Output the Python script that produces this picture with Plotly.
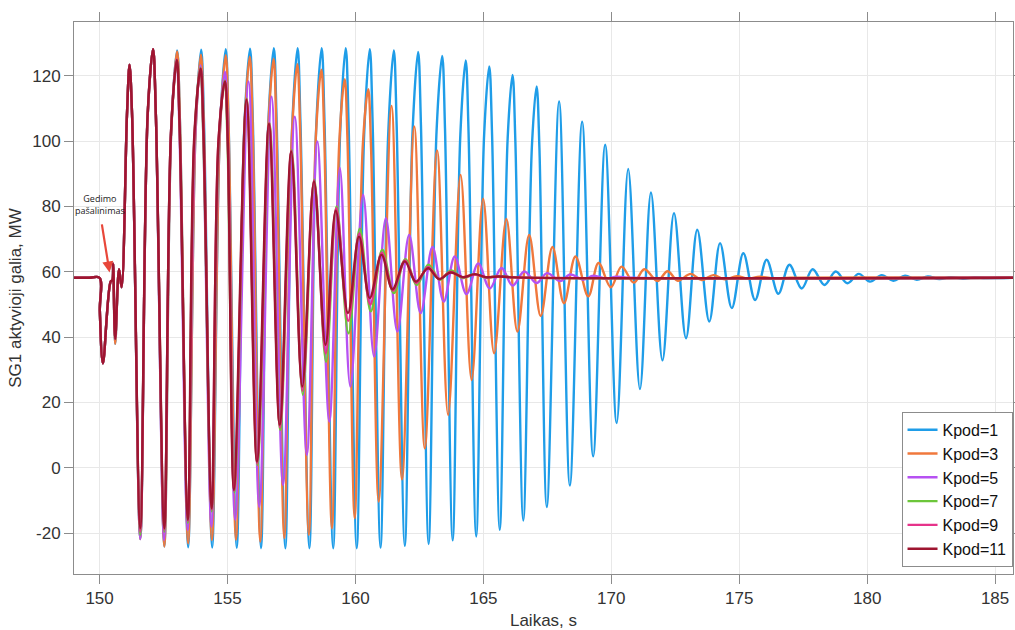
import plotly.graph_objects as go

# ---------------- data ----------------
EARLY_T = [149.0, 149.6, 149.995, 150.01, 150.13, 150.43, 150.50, 150.53, 150.61, 150.76, 150.86, 151.07, 151.17, 151.27]
EARLY_V_A = [58.2, 58.2, 58.2, 48.0, 32.0, 57.0, 57.5, 62.5, 38.0, 60.8, 55.3, 108.0, 123.4, 108.0]
EARLY_V_B = [58.2, 58.2, 58.2, 48.0, 32.0, 57.0, 57.5, 62.5, 39.5, 60.8, 55.3, 108.0, 123.4, 108.0]

K1_T = [151.59, 151.88, 152.09, 152.20, 152.53, 152.80, 153.03, 153.14, 153.46, 153.75, 153.97, 154.08,
        154.40, 154.70, 154.93, 155.04, 155.36, 155.65, 155.88, 155.99, 156.31, 156.58, 156.81, 156.92,
        157.26, 157.52, 157.74, 157.85, 158.20, 158.46, 158.68, 158.79, 159.13, 159.40, 159.62, 159.73,
        160.05, 160.34, 160.56, 160.67, 160.98, 161.28, 161.50, 161.61, 161.93, 162.23, 162.45, 162.56,
        162.86, 163.17, 163.39, 163.50, 163.80, 164.10, 164.31, 164.42, 164.72, 165.03, 165.23, 165.34,
        165.64, 165.95, 166.14, 166.25, 166.56, 166.90, 167.08, 167.19, 167.48, 167.96, 168.38, 168.86,
        169.29, 169.76, 170.21, 170.66, 171.12, 171.55, 172.00, 172.45, 172.92, 173.36, 173.83, 174.25,
        174.71, 175.16, 175.62, 176.07, 176.53, 176.96, 177.44, 177.87, 178.33, 178.77, 179.23, 179.67,
        180.11, 180.57, 181.02, 181.48, 181.94, 182.37, 182.82, 183.27, 183.74, 184.18, 184.65, 185.70]
K1_V = [-21.8, 108.0, 128.2, 108.0, -24.1, 103.0, 127.8, 106.0, -24.3, 102.5, 128.0, 106.0,
        -24.4, 102.5, 128.2, 106.0, -24.5, 103.0, 128.3, 106.0, -24.6, 103.0, 128.5, 106.0,
        -24.6, 103.0, 128.5, 106.0, -24.6, 103.0, 128.5, 106.0, -24.6, 102.0, 128.5, 106.0,
        -24.6, 102.0, 128.2, 106.0, -24.4, 102.0, 127.8, 105.0, -23.9, 102.5, 127.3, 105.0,
        -23.3, 103.0, 126.1, 104.0, -22.2, 102.0, 124.7, 103.0, -21.0, 102.0, 122.9, 102.0,
        -19.0, 101.0, 120.3, 100.0, -16.1, 99.0, 116.8, 98.0, -12.0, 112.2, -5.4, 106.0,
        3.5, 98.9, 13.7, 91.5, 24.1, 84.3, 32.9, 78.0, 39.7, 72.9, 44.8, 68.8,
        48.9, 65.7, 51.4, 63.7, 53.3, 62.2, 54.9, 60.8, 56.0, 60.1, 56.5, 59.4,
        57.0, 59.0, 57.3, 58.8, 57.6, 58.6, 57.8, 58.4, 57.9, 58.3, 58.1, 58.2]

K3_T = [151.59, 151.88, 152.09, 152.20, 152.53, 152.80, 153.03, 153.14, 153.46, 153.75, 153.96, 154.07,
        154.39, 154.70, 154.93, 155.04, 155.33, 155.65, 155.87, 155.98, 156.28, 156.58, 156.80, 156.91,
        157.22, 157.51, 157.73, 157.84, 158.18, 158.45, 158.67, 158.78, 159.08, 159.37, 159.58, 159.69,
        159.97, 160.29, 160.50, 160.61, 160.91, 161.41, 161.82, 162.30, 162.71, 163.19, 163.62, 164.11,
        164.54, 164.99, 165.42, 165.90, 166.33, 166.79, 167.24, 167.70, 168.15, 168.60, 169.10, 169.50,
        169.98, 170.40, 170.88, 171.29, 171.80, 172.20, 172.60, 173.10, 173.53, 173.99, 174.44, 174.90,
        175.35, 175.80, 176.30, 177.00, 185.70]
K3_V = [-21.8, 108.0, 128.2, 108.0, -24.1, 103.0, 127.5, 106.0, -23.1, 102.5, 126.5, 105.0,
        -22.1, 102.0, 126.3, 105.0, -22.0, 102.0, 125.9, 105.0, -22.6, 102.0, 125.2, 104.0,
        -21.5, 101.0, 123.6, 103.0, -20.5, 101.0, 121.9, 102.0, -18.5, 100.0, 119.0, 100.0,
        -15.4, 99.0, 115.9, 98.0, -10.3, 110.8, -3.5, 104.5, 6.0, 97.2, 16.2, 89.7,
        26.9, 82.4, 35.1, 76.2, 41.7, 71.3, 46.5, 67.6, 50.4, 64.7, 52.5, 62.7,
        55.3, 61.6, 56.7, 60.8, 57.2, 60.2, 57.3, 59.4, 57.5, 59.0, 57.7, 58.7,
        57.9, 58.5, 58.0, 58.2, 58.2]

K5_T = [151.59, 151.88, 152.09, 152.20, 152.52, 152.79, 153.01, 153.12, 153.44, 153.73, 153.94, 154.05,
        154.37, 154.67, 154.90, 155.01, 155.30, 155.82, 156.24, 156.72, 157.17, 157.63, 158.10, 158.51,
        158.98, 159.39, 159.80, 160.30, 160.73, 161.19, 161.64, 162.10, 162.55, 163.01, 163.45, 163.88,
        164.34, 164.80, 165.25, 165.71, 166.14, 166.60, 167.08, 167.49, 168.00, 168.40, 168.90, 169.30,
        169.80, 170.20, 170.80, 185.70]
K5_V = [-21.8, 108.0, 128.2, 108.0, -22.1, 102.4, 125.0, 104.0, -19.0, 101.5, 123.2, 103.0,
        -18.0, 100.5, 121.3, 101.0, -15.9, 118.3, -11.9, 113.6, -5.2, 107.5, 4.0, 99.9,
        14.2, 91.8, 24.9, 83.6, 34.1, 76.4, 41.7, 71.3, 47.4, 67.6, 50.9, 64.7,
        53.2, 62.6, 54.9, 61.2, 55.8, 60.1, 56.6, 59.6, 57.2, 59.2, 57.6, 58.8,
        57.9, 58.5, 58.2, 58.2]

K7_T = [151.59, 151.88, 152.09, 152.20, 152.53, 152.79, 153.02, 153.13, 153.45, 153.71, 153.94, 154.05,
        154.38, 154.66, 154.89, 155.00, 155.27, 155.75, 156.17, 156.64, 157.06, 157.51, 157.94, 158.39,
        158.85, 159.26, 159.73, 160.17, 160.60, 161.05, 161.50, 161.95, 162.40, 162.85, 163.30, 163.73,
        164.20, 164.65, 165.10, 165.55, 166.20, 185.70]
K7_V = [-20.5, 108.0, 128.2, 108.0, -19.5, 102.4, 124.9, 104.0, -16.8, 101.4, 122.5, 103.0,
        -13.3, 100.4, 118.6, 100.0, -7.5, 113.0, 0.9, 105.6, 11.6, 97.3, 22.4, 88.2,
        32.5, 80.0, 41.2, 73.2, 47.9, 66.8, 53.5, 63.9, 56.0, 62.2, 57.6, 60.4,
        58.1, 59.3, 58.2, 58.7, 58.3, 58.2]

K9_T = [151.59, 151.88, 152.09, 152.20, 152.53, 152.79, 153.02, 153.13, 153.45, 153.71, 153.95, 154.06,
        154.38, 154.65, 154.90, 155.01, 155.26, 155.75, 156.16, 156.63, 157.05, 157.50, 157.93, 158.38,
        158.84, 159.25, 159.72, 160.15, 160.58, 161.03, 161.47, 161.94, 162.38, 162.84, 163.28, 163.72,
        164.20, 164.66, 165.10, 165.55, 166.20, 185.70]
K9_V = [-19.5, 108.0, 128.2, 108.0, -19.0, 102.4, 124.9, 104.0, -16.3, 101.4, 122.3, 103.0,
        -12.8, 100.4, 118.4, 100.0, -7.0, 112.8, 1.4, 105.5, 12.4, 97.1, 23.6, 88.0,
        35.0, 79.5, 45.0, 71.8, 50.0, 65.8, 54.3, 63.5, 56.6, 61.5, 57.8, 60.0,
        58.3, 59.2, 58.3, 58.6, 58.3, 58.2]

K11_T = [151.59, 151.88, 152.09, 152.20, 152.53, 152.79, 153.02, 153.13, 153.45, 153.70, 153.95, 154.06,
         154.38, 154.65, 154.90, 155.01, 155.25, 155.74, 156.15, 156.62, 157.04, 157.49, 157.92, 158.38,
         158.83, 159.23, 159.71, 160.14, 160.56, 161.02, 161.45, 161.93, 162.36, 162.84, 163.27, 163.72,
         164.20, 164.67, 165.10, 165.60, 166.20, 185.70]
K11_V = [-18.5, 108.6, 128.2, 108.0, -18.5, 102.4, 124.9, 104.0, -15.9, 101.4, 122.2, 103.0,
         -12.4, 100.4, 118.3, 100.0, -6.7, 112.7, 1.9, 105.3, 13.2, 96.9, 24.9, 87.7,
         37.7, 78.7, 47.4, 70.8, 52.0, 65.2, 54.7, 63.2, 57.0, 61.1, 57.8, 59.8,
         58.4, 59.3, 58.4, 58.6, 58.3, 58.2]

SERIES_NAMES = ["Kpod=1", "Kpod=3", "Kpod=5", "Kpod=7", "Kpod=9", "Kpod=11"]
SERIES_T = [K1_T, K3_T, K5_T, K7_T, K9_T, K11_T]
SERIES_V = [K1_V, K3_V, K5_V, K7_V, K9_V, K11_V]
SERIES_EARLY = [EARLY_V_A, EARLY_V_A, EARLY_V_B, EARLY_V_B, EARLY_V_B, EARLY_V_B]
COLORS = ["#1f9de8", "#f0783c", "#b651f2", "#6cc63a", "#e6338a", "#9e1530"]

X_TICKS = [150, 155, 160, 165, 170, 175, 180, 185]
Y_TICKS = [-20, 0, 20, 40, 60, 80, 100, 120]
Y_TICK_TEXT = ["-20", "0", "20", "40", "60", "80", "100", "120"]

# ---------------- figure ----------------
fig = go.Figure()
for name, t, v, ev, c in zip(SERIES_NAMES, SERIES_T, SERIES_V, SERIES_EARLY, COLORS):
    fig.add_trace(go.Scatter(
        x=EARLY_T + t, y=ev + v, mode="lines", name=name,
        line=dict(color=c, width=2.4, shape="spline", smoothing=1.0),
    ))

axis_common = dict(
    showline=True, linecolor="#8c8c8c", linewidth=1, mirror="ticks",
    ticks="outside", ticklen=9, tickcolor="#8c8c8c", tickwidth=1,
    showgrid=True, gridcolor="#e8e8e8", gridwidth=1, zeroline=False,
    automargin=False,
    tickfont=dict(family="Liberation Sans, Arial, sans-serif", size=17, color="#333333"),
)

fig.update_layout(
    width=1015, height=630,
    margin=dict(l=74, r=2, t=22, b=56),
    paper_bgcolor="white", plot_bgcolor="white",
    font=dict(family="Liberation Sans, Arial, sans-serif", color="#333333"),
    xaxis=dict(range=[149.0, 185.7], tickvals=X_TICKS,
               title=dict(text="Laikas, s", font=dict(size=17), standoff=9), **axis_common),
    yaxis=dict(range=[-32.5, 136.5], tickvals=Y_TICKS, ticktext=Y_TICK_TEXT,
               title=dict(text="SG1 aktyvioji galia, MW", font=dict(size=17), standoff=6), **axis_common),
    legend=dict(x=0.9995, y=0.013, xanchor="right", yanchor="bottom",
                bgcolor="white", bordercolor="#8c8c8c", borderwidth=1,
                font=dict(size=16, color="#111111"), itemwidth=30,
                tracegroupgap=0),
    showlegend=True,
)

fig.add_annotation(x=150.0, y=80.5, text="Gedimo<br>pašalinimas", showarrow=False,
                   font=dict(family="Open Sans, sans-serif", size=9, color="#222222"),
                   xanchor="center", yanchor="middle")
fig.add_annotation(x=150.39, y=59.8, ax=150.08, ay=75.0, axref="x", ayref="y",
                   text="", showarrow=True, arrowhead=2, arrowsize=1.0, arrowwidth=2.2,
                   arrowcolor="#e8473a")

fig.write_html("out.html")
